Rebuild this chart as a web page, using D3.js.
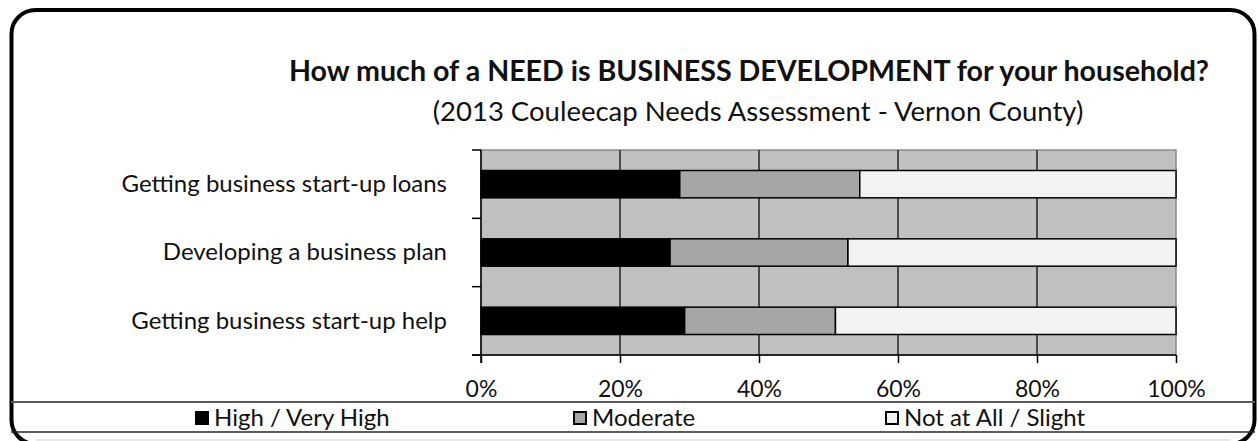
<!DOCTYPE html>
<html>
<head>
<meta charset="utf-8">
<script src="https://cdn.jsdelivr.net/npm/d3@7"></script>
<style>
  body { margin: 0; background: #fff; }
  text { font-family: Lato, "Open Sans", sans-serif; fill: #111; }
</style>
</head>
<body>
<div id="chart"></div>
<script>
// chart data
var categories = ["Getting business start-up loans", "Developing a business plan", "Getting business start-up help"];
var seriesNames = ["High / Very High", "Moderate", "Not at All / Slight"];
var high = [28.6, 27.2, 29.3];
var moderate = [25.9, 25.6, 21.7];
var notAtAll = [45.5, 47.2, 49.0];
var tickValues = [0, 20, 40, 60, 80, 100];
var colors = ["#000000", "#a6a6a6", "#f2f2f2"];

var W = 1258, H = 441;
var svg = d3.select("#chart").append("svg")
    .attr("width", W)
    .attr("height", H);

// outer rounded frame (bottom edge runs just past the window)
svg.append("rect")
    .attr("x", 11.5).attr("y", 10)
    .attr("width", 1243).attr("height", 434)
    .attr("rx", 24).attr("ry", 24)
    .attr("fill", "#fff")
    .attr("stroke", "#000")
    .attr("stroke-width", 4);

// titles
svg.append("text")
    .attr("x", 749).attr("y", 81)
    .attr("text-anchor", "middle")
    .style("font-size", "28.6px")
    .style("font-weight", "bold")
    .text("How much of a NEED is BUSINESS DEVELOPMENT for your household?");
svg.append("text")
    .attr("x", 758).attr("y", 121)
    .attr("text-anchor", "middle")
    .style("font-size", "27.5px")
    .text("(2013 Couleecap Needs Assessment - Vernon County)");

var plot = {left: 481, right: 1176, top: 150, bottom: 355};

var xScale = d3.scaleLinear()
    .domain([0, 100])
    .range([plot.left, plot.right]);

var yBand = d3.scaleBand()
    .domain(categories)
    .range([plot.top, plot.bottom]);

// plot background
svg.append("rect")
    .attr("x", plot.left).attr("y", plot.top)
    .attr("width", plot.right - plot.left)
    .attr("height", plot.bottom - plot.top)
    .attr("fill", "#c0c0c0")
    .attr("stroke", "#8c8c8c")
    .attr("stroke-width", 1.5);

// grid lines
svg.selectAll(".grid")
    .data(tickValues.slice(1, -1)).enter()
    .append("line")
    .attr("class", "grid")
    .attr("x1", function (d) { return xScale(d); })
    .attr("x2", function (d) { return xScale(d); })
    .attr("y1", plot.top)
    .attr("y2", plot.bottom)
    .attr("stroke", "#262626")
    .attr("stroke-width", 1.5);

// stack the series
var rows = categories.map(function (c, i) {
    return {cat: c, high: high[i], moderate: moderate[i], notAtAll: notAtAll[i]};
});
var stack = d3.stack().keys(["high", "moderate", "notAtAll"]);
var layers = stack(rows);

var barH = yBand.bandwidth() * 0.4;

svg.selectAll(".layer")
    .data(layers).enter()
    .append("g")
    .attr("class", "layer")
    .attr("fill", function (d, i) { return colors[i]; })
    .selectAll("rect")
    .data(function (d) { return d; }).enter()
    .append("rect")
    .attr("x", function (d) { return xScale(d[0]); })
    .attr("y", function (d) { return yBand(d.data.cat) + (yBand.bandwidth() - barH) / 2; })
    .attr("width", function (d) { return xScale(d[1]) - xScale(d[0]); })
    .attr("height", barH)
    .attr("stroke", "#000")
    .attr("stroke-width", 1.5);

// y axis (category)
var yAxis = d3.axisLeft(yBand).tickSize(0).tickPadding(34);
var gy = svg.append("g")
    .attr("transform", "translate(" + plot.left + ",0)")
    .call(yAxis);
gy.select(".domain").remove();
gy.selectAll("text")
    .style("font-size", "24px")
    .attr("fill", "#111");

// category boundary ticks
var bounds = [plot.top].concat(categories.map(function (c) { return yBand(c) + yBand.bandwidth(); }));
svg.selectAll(".ytick")
    .data(bounds).enter()
    .append("line")
    .attr("x1", plot.left - 9).attr("x2", plot.left)
    .attr("y1", function (d) { return d; })
    .attr("y2", function (d) { return d; })
    .attr("stroke", "#000")
    .attr("stroke-width", 1.5);
svg.append("line")
    .attr("x1", plot.left).attr("x2", plot.left)
    .attr("y1", plot.top).attr("y2", plot.bottom + 8)
    .attr("stroke", "#000").attr("stroke-width", 1.5);

// x axis
var xAxis = d3.axisBottom(xScale)
    .tickValues(tickValues)
    .tickSize(8)
    .tickPadding(18)
    .tickFormat(function (d) { return d + "%"; });
var gx = svg.append("g")
    .attr("transform", "translate(0," + plot.bottom + ")")
    .call(xAxis);
gx.select(".domain")
    .attr("d", "M" + (plot.left - 9) + ",0H" + plot.right)
    .attr("stroke", "#000").attr("stroke-width", 1.5);
gx.selectAll(".tick line").attr("stroke", "#000").attr("stroke-width", 1.5);
gx.selectAll("text")
    .style("font-size", "23px")
    .attr("fill", "#111");

// legend box
svg.append("line")
    .attr("x1", 11).attr("x2", 1255)
    .attr("y1", 402).attr("y2", 402)
    .attr("stroke", "#595959").attr("stroke-width", 2);
svg.append("line")
    .attr("x1", 11).attr("x2", 1255)
    .attr("y1", 432).attr("y2", 432)
    .attr("stroke", "#262626").attr("stroke-width", 1.5);
svg.append("line")
    .attr("x1", 36).attr("x2", 1230)
    .attr("y1", 440).attr("y2", 440)
    .attr("stroke", "#cfcfcf").attr("stroke-width", 1);

var legendX = [195, 573, 885];
var leg = svg.selectAll(".legend")
    .data(seriesNames).enter()
    .append("g")
    .attr("class", "legend")
    .attr("transform", function (d, i) { return "translate(" + legendX[i] + ",411)"; });
leg.append("rect")
    .attr("x", 1).attr("y", 1)
    .attr("width", 12).attr("height", 12)
    .attr("fill", function (d, i) { return colors[i]; })
    .attr("stroke", "#000")
    .attr("stroke-width", 2);
leg.append("text")
    .attr("x", 19).attr("y", 15)
    .style("font-size", "24px")
    .text(function (d) { return d; });
</script>
</body>
</html>
